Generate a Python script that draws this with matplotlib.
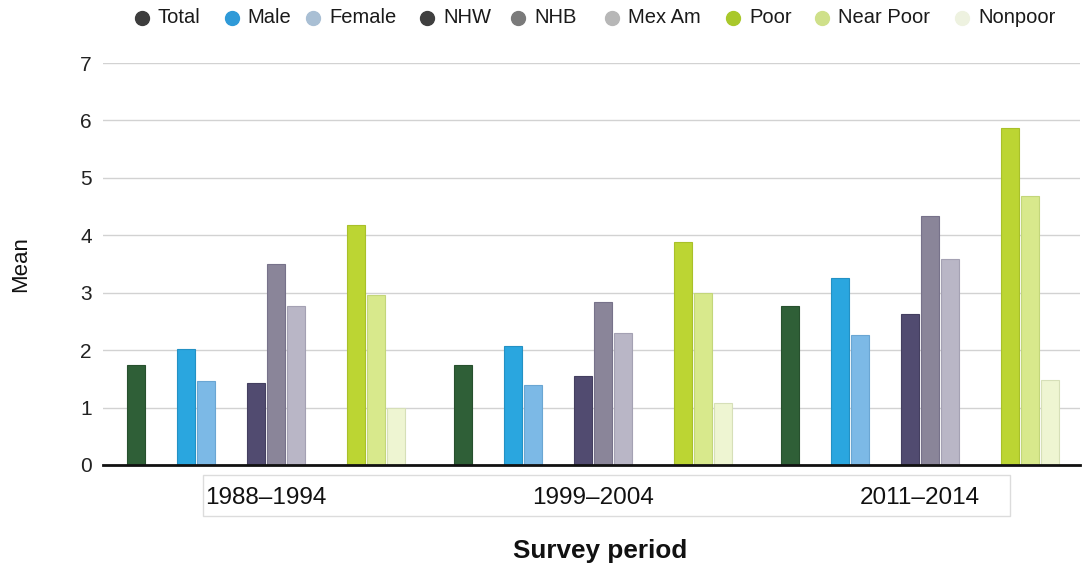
import matplotlib
matplotlib.use("Agg")
import matplotlib.pyplot as plt
from matplotlib.lines import Line2D
from matplotlib.patches import Rectangle
import numpy as np

plt.rcParams['font.family'] = ['Liberation Sans', 'DejaVu Sans']

periods = ["1988–1994", "1999–2004", "2011–2014"]
series = ["Total", "Male", "Female", "NHW", "NHB", "Mex Am", "Poor", "Near Poor", "Nonpoor"]
total = [1.75, 1.75, 2.77]
male = [2.02, 2.08, 3.25]
female = [1.46, 1.39, 2.26]
nhw = [1.42, 1.55, 2.63]
nhb = [3.50, 2.84, 4.34]
mexam = [2.77, 2.29, 3.58]
poor = [4.18, 3.89, 5.86]
nearpoor = [2.96, 2.99, 4.69]
nonpoor = [1.00, 1.08, 1.48]
values = [total, male, female, nhw, nhb, mexam, poor, nearpoor, nonpoor]

bar_colors = ["#2f5f37", "#2aa6df", "#7cb9e6", "#514b70", "#8a8599", "#b9b6c6",
              "#bcd533", "#d8e98c", "#eef5d2"]
edge_colors = ["#27502e", "#2391c4", "#6aa6d3", "#443f60", "#77728a", "#a4a1b3",
               "#a9c02a", "#c3d67a", "#d6dfb8"]
legend_colors = ["#3d3d3d", "#2f9ad8", "#a9bfd4", "#3f3f3f", "#7a7a7a", "#b7b7b7",
                 "#a9c82b", "#cfe08a", "#eef2e0"]
legend_marker_px = [141.7, 231.7, 313, 427, 518, 611.7, 733, 822, 962]

# slot offsets within a period group (Total | Male Female | NHW NHB MexAm | Poor NearPoor Nonpoor)
offsets = np.array([0, 2.5, 3.5, 6, 7, 8, 11, 12, 13], dtype=float)
period_step = 16.35
group_x = np.arange(len(periods)) * period_step

W, H = 1082, 567
fig = plt.figure(figsize=(W/100, H/100), dpi=100)
ax = fig.add_axes([103/W, 1-465/H, 977/W, 402/H])

for i, name in enumerate(series):
    ax.bar(group_x + offsets[i], values[i], width=0.9, color=bar_colors[i],
           edgecolor=edge_colors[i], linewidth=0.8, zorder=3)

ax.set_ylim(0, 7)
ax.set_xlim(-1.65, 47.2)
ax.set_yticks(range(0, 8))
ax.yaxis.grid(True, color="#d2d2d2", linewidth=1.0, zorder=0)
ax.set_axisbelow(True)
for s in ["left", "right", "top"]:
    ax.spines[s].set_visible(False)
ax.spines["bottom"].set_linewidth(2)
ax.spines["bottom"].set_color("#111111")
ax.spines["bottom"].set_zorder(5)
ax.tick_params(axis="y", length=0, pad=8, labelsize=15, labelcolor="#222222")
centers = group_x + (offsets[0] + offsets[-1]) / 2
ax.set_xticks(centers)
ax.set_xticklabels(periods, fontsize=17.5, color="#111111")
ax.tick_params(axis="x", length=0, pad=15.5)

ax.set_ylabel("Mean", fontsize=16, labelpad=35, color="#111111")
ax.set_xlabel("Survey period", fontsize=18.8, fontweight="bold", labelpad=24, color="#111111")
ax.xaxis.set_label_coords((600 - 103)/977, -(551 - 465)/402)
ax.xaxis.label.set_va("center")

# faint frame around category labels
ax.add_patch(Rectangle((100/977, -51/402), 807/977, 41/402, transform=ax.transAxes,
                       fill=False, edgecolor="#dcdcdc", linewidth=1, clip_on=False))

# legend, placed entry by entry
ly = 1 - 17.5/H
for name, c, mx in zip(series, legend_colors, legend_marker_px):
    fig.add_artist(Line2D([mx/W], [ly], marker="o", linestyle="none", markersize=10,
                          markerfacecolor=c, markeredgecolor=c, transform=fig.transFigure))
    fig.text((mx + 16)/W, ly, name, fontsize=14.5, va="center", ha="left", color="#1a1a1a")

fig.savefig("out.png", dpi=100, facecolor="white")
